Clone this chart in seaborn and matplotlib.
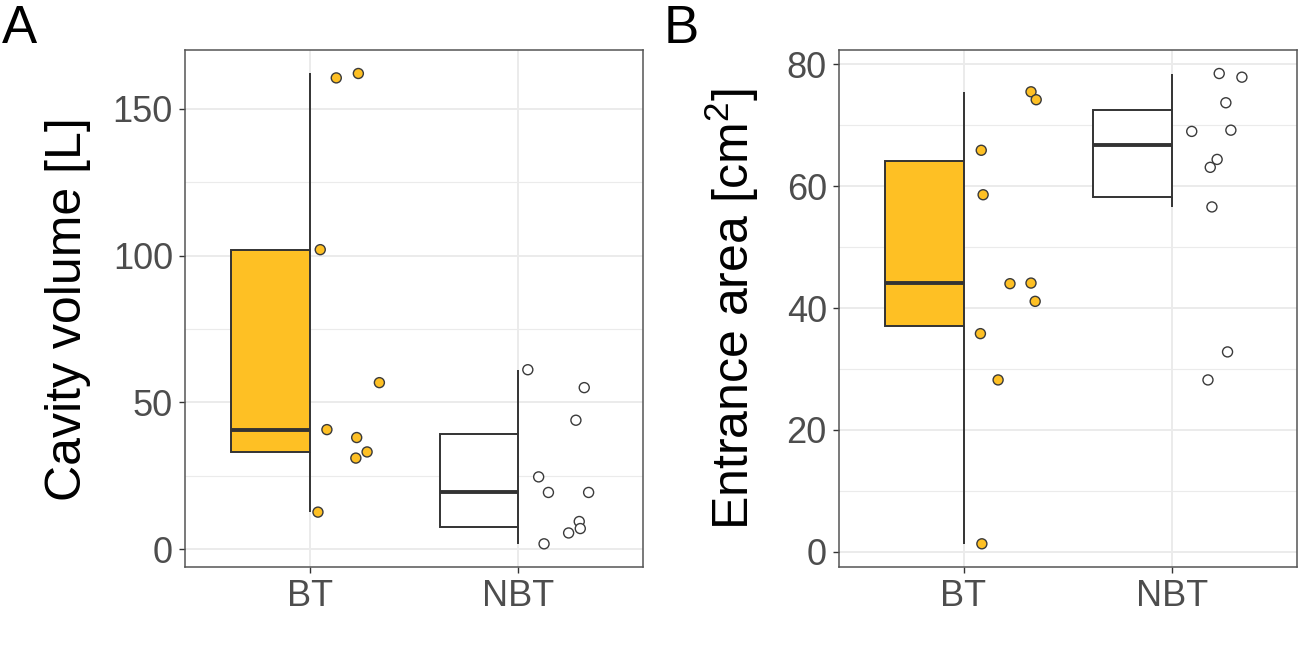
import numpy as np
import pandas as pd
import seaborn as sns
import matplotlib.pyplot as plt

# groups and values
groups = ["BT", "NBT"]

bt_volume = [160.5, 162.0, 102.0, 56.7, 40.7, 38.0, 33.1, 31.0, 12.6]
nbt_volume = [61.1, 55.0, 43.9, 24.6, 19.3, 19.3, 9.4, 7.0, 5.5, 1.8]
bt_area = [75.5, 74.2, 65.9, 58.6, 44.0, 44.1, 41.1, 35.8, 28.2, 1.3]
nbt_area = [78.5, 77.9, 73.7, 69.0, 69.2, 64.4, 63.1, 56.6, 32.8, 28.2]

# horizontal jitter of the points (right of the group centre)
bt_volume_jit = [0.128, 0.234, 0.051, 0.335, 0.083, 0.226, 0.276, 0.222, 0.040]
nbt_volume_jit = [0.048, 0.319, 0.279, 0.100, 0.147, 0.340, 0.295, 0.300, 0.244, 0.126]
bt_area_jit = [0.324, 0.349, 0.085, 0.094, 0.223, 0.324, 0.344, 0.081, 0.166, 0.088]
nbt_area_jit = [0.228, 0.337, 0.260, 0.096, 0.284, 0.218, 0.185, 0.193, 0.268, 0.174]

palette = {"BT": "#FEC024", "NBT": "white"}


def make_df(bt, nbt, bt_jit, nbt_jit):
    df = pd.DataFrame({
        "group": ["BT"] * len(bt) + ["NBT"] * len(nbt),
        "value": bt + nbt,
        "jit": bt_jit + nbt_jit,
    })
    df["xpos"] = df["group"].map({g: i for i, g in enumerate(groups)}) + df["jit"]
    return df


def halve_boxes(ax):
    # keep only the left half of each box, whiskers sit on the right edge
    for patch in ax.patches:
        verts = patch.get_path().vertices
        mid = (verts[:, 0].min() + verts[:, 0].max()) / 2
        verts[verts[:, 0] > mid + 1e-9, 0] = mid
    for line in ax.lines:
        x = np.asarray(line.get_xdata(), dtype=float)
        if len(x) == 2 and abs(x[0] - x[1]) > 1e-9:
            line.set_xdata([min(x), (x[0] + x[1]) / 2])


sns.set_style("white")
plt.rcParams["font.family"] = ["Liberation Sans", "DejaVu Sans"]
plt.rcParams["mathtext.default"] = "regular"

fig = plt.figure(figsize=(12.99, 6.65), dpi=100)
ax_a = fig.add_axes([0.1422, 0.1469, 0.3526, 0.7779])
ax_b = fig.add_axes([0.6456, 0.1469, 0.3526, 0.7779])

panels = [
    (ax_a, make_df(bt_volume, nbt_volume, bt_volume_jit, nbt_volume_jit),
     "Cavity volume [L]", (-6.2, 170.0), [0, 50, 100, 150], [25, 75, 125], -0.205),
    (ax_b, make_df(bt_area, nbt_area, bt_area_jit, nbt_area_jit),
     "Entrance area [cm$^{2}$]", (-2.56, 82.36), [0, 20, 40, 60, 80], [10, 30, 50, 70], -0.17),
]

for ax, df, ylabel, ylim, majors, minors, labx in panels:
    sns.boxplot(data=df, x="group", y="value", hue="group", order=groups,
                palette=palette, saturation=1, width=0.752, showfliers=False,
                showcaps=False, linecolor="#333333", linewidth=1.4, legend=False,
                medianprops={"linewidth": 2.8}, ax=ax)
    halve_boxes(ax)
    sns.scatterplot(data=df, x="xpos", y="value", hue="group", palette=palette,
                    edgecolor="#3a3a3a", linewidth=1.0, s=52, legend=False,
                    zorder=3, ax=ax)

    ax.set_xlim(-0.6, 1.6)
    ax.set_ylim(*ylim)
    ax.set_xticks(range(len(groups)))
    ax.set_xticklabels(groups)
    ax.set_yticks(majors)
    ax.set_yticks(minors, minor=True)
    ax.set_axisbelow(True)
    ax.grid(True, which="major", color="#EBEBEB", linewidth=1.4)
    ax.grid(True, which="minor", axis="y", color="#EBEBEB", linewidth=0.8)
    ax.tick_params(axis="both", which="major", labelsize=26, labelcolor="#4D4D4D",
                   color="#333333", length=4.5, width=1.0, left=True, bottom=True)
    ax.tick_params(axis="y", which="major", pad=4)
    ax.tick_params(axis="x", which="major", pad=4)
    ax.tick_params(axis="y", which="minor", length=0)
    for sp in ax.spines.values():
        sp.set_visible(True)
        sp.set_color("#555555")
        sp.set_linewidth(1.1)
    ax.set_xlabel("")
    ax.set_ylabel(ylabel, fontsize=36, color="black")
    ax.yaxis.set_label_coords(labx, 0.5)

fig.text(0.0015, 0.935, "A", fontsize=38, va="baseline", ha="left", color="black")
fig.text(0.511, 0.935, "B", fontsize=38, va="baseline", ha="left", color="black")

fig.savefig("out.png", dpi=100)
